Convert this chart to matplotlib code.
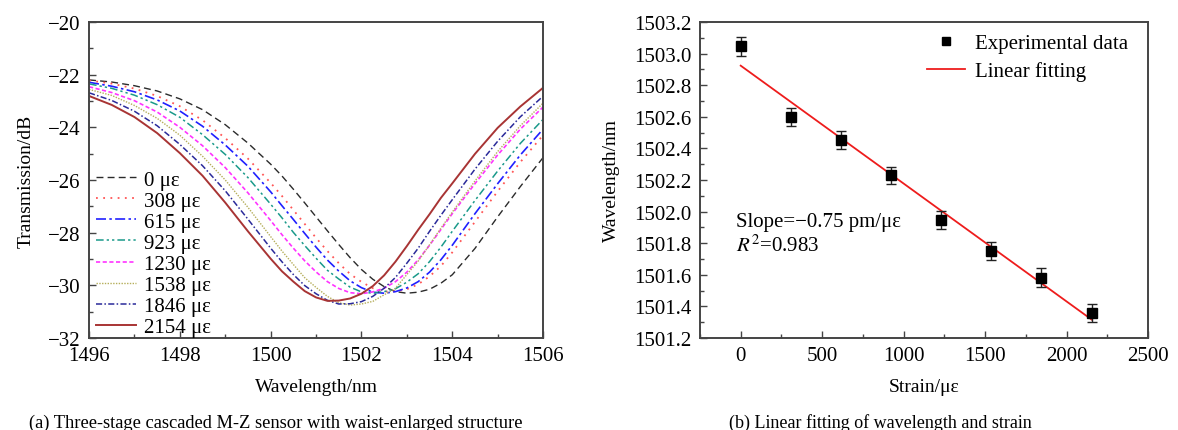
import numpy as np
import matplotlib
matplotlib.use("Agg")
import matplotlib.pyplot as plt
from matplotlib.ticker import MultipleLocator
from matplotlib.lines import Line2D

plt.rcParams['font.family'] = ['Liberation Serif', 'DejaVu Serif']
plt.rcParams['mathtext.fontset'] = 'stix'

# ---- data, panel (a): transmission spectra ----
wl = [1496.0, 1496.5, 1497.0, 1497.5, 1498.0, 1498.5, 1499.0, 1499.5, 1500.0, 1500.25,
      1500.5, 1500.75, 1501.0, 1501.25, 1501.5, 1501.75, 1502.0, 1502.25, 1502.5, 1502.75,
      1503.0, 1503.25, 1503.5, 1503.75, 1504.0, 1504.5, 1505.0, 1505.5, 1506.0]
t_0 = [-22.20, -22.28, -22.42, -22.62, -22.92, -23.33, -23.90, -24.60, -25.40, -25.85,
       -26.35, -26.87, -27.40, -27.93, -28.45, -28.95, -29.40, -29.77, -30.05, -30.24,
       -30.30, -30.26, -30.15, -29.92, -29.60, -28.60, -27.40, -26.25, -25.15]
t_308 = [-22.22, -22.34, -22.53, -22.81, -23.20, -23.73, -24.41, -25.19, -26.11, -26.61,
         -27.14, -27.67, -28.20, -28.70, -29.16, -29.57, -29.87, -30.11, -30.24, -30.23,
         -30.15, -29.96, -29.66, -29.27, -28.75, -27.59, -26.43, -25.32, -24.30]
t_615 = [-22.29, -22.44, -22.65, -22.96, -23.38, -23.96, -24.67, -25.48, -26.45, -26.98,
         -27.50, -28.03, -28.55, -29.04, -29.46, -29.83, -30.09, -30.26, -30.30, -30.24,
         -30.10, -29.86, -29.50, -29.03, -28.48, -27.28, -26.14, -25.05, -24.07]
t_923 = [-22.35, -22.52, -22.78, -23.14, -23.62, -24.28, -25.03, -25.91, -26.92, -27.44,
         -27.99, -28.49, -28.97, -29.43, -29.76, -30.07, -30.25, -30.30, -30.24, -30.13,
         -29.88, -29.56, -29.10, -28.55, -27.95, -26.78, -25.66, -24.61, -23.70]
t_1230 = [-22.46, -22.68, -22.99, -23.42, -24.00, -24.70, -25.53, -26.49, -27.54, -28.08,
          -28.59, -29.07, -29.49, -29.86, -30.12, -30.28, -30.32, -30.25, -30.11, -29.86,
          -29.50, -29.03, -28.48, -27.88, -27.28, -26.14, -25.05, -24.07, -23.23]
t_1538 = [-22.56, -22.79, -23.17, -23.66, -24.30, -25.10, -26.00, -27.04, -28.15, -28.70,
          -29.21, -29.71, -30.08, -30.42, -30.66, -30.75, -30.71, -30.61, -30.36, -30.11,
          -29.59, -29.08, -28.46, -27.83, -27.22, -26.04, -24.92, -23.94, -23.08]
t_1846 = [-22.69, -22.98, -23.39, -23.94, -24.65, -25.46, -26.41, -27.49, -28.59, -29.11,
          -29.59, -30.01, -30.32, -30.57, -30.71, -30.70, -30.62, -30.42, -30.11, -29.70,
          -29.16, -28.59, -27.95, -27.34, -26.75, -25.59, -24.53, -23.60, -22.82]
t_2154 = [-22.81, -23.15, -23.61, -24.22, -24.98, -25.84, -26.86, -27.95, -28.99, -29.47,
          -29.86, -30.22, -30.46, -30.59, -30.58, -30.50, -30.32, -30.03, -29.62, -29.10,
          -28.51, -27.89, -27.30, -26.68, -26.13, -25.01, -24.02, -23.21, -22.50]
spectra = [t_0, t_308, t_615, t_923, t_1230, t_1538, t_1846, t_2154]
labels = ["0 με", "308 με", "615 με", "923 με", "1230 με", "1538 με", "1846 με", "2154 με"]

# ---- data, panel (b): dip wavelength vs strain ----
strain = [0, 308, 615, 923, 1230, 1538, 1846, 2154]
dip = [1503.045, 1502.597, 1502.454, 1502.229, 1501.946, 1501.752, 1501.582, 1501.357]
dip_err = [0.058, 0.058, 0.058, 0.056, 0.058, 0.058, 0.058, 0.058]

colors = ["#2b2b2b", "#ff5555", "#2020ff", "#1a9a8a", "#ff33ff", "#b5ae5a", "#2a2a9a", "#a83434"]
styles = [(0, (5, 3)), (0, (1, 3)), (0, (6, 2, 1.5, 2)), (0, (5, 2, 1.5, 2, 1.5, 2)),
          (0, (2.5, 1.5)), (0, (1, 1)), (0, (4, 1.5, 1, 1.5)), "-"]
widths = [1.0, 1.3, 1.2, 1.1, 1.2, 1.0, 1.1, 1.4]

fs = 15        # ticks, legends, annotations
fs_lab = 14    # axis labels
spine_col = "#444444"

f = plt.figure(figsize=(11.78, 4.31), dpi=100)
ax1 = f.add_axes([0.0756, 0.2135, 0.3854, 0.7332])
ax2 = f.add_axes([0.5942, 0.2135, 0.3803, 0.7332])

def style_axes(ax):
    for s in ax.spines.values():
        s.set_color(spine_col)
        s.set_linewidth(1.4)
    ax.tick_params(which="both", direction="in", top=False, right=False,
                   color=spine_col, labelsize=fs, pad=6)
    ax.tick_params(which="major", length=5, width=1.0)
    ax.tick_params(which="minor", length=3, width=1.0)

# panel (a)
for y, lab, c, ls, lw in zip(spectra, labels, colors, styles, widths):
    ax1.plot(wl, y, color=c, linestyle=ls, linewidth=lw, label=lab)
ax1.set_xlim(1496, 1506)
ax1.set_ylim(-32, -20)
ax1.xaxis.set_major_locator(MultipleLocator(2))
ax1.xaxis.set_minor_locator(MultipleLocator(1))
ax1.yaxis.set_major_locator(MultipleLocator(2))
ax1.yaxis.set_minor_locator(MultipleLocator(1))
style_axes(ax1)
ax1.set_xlabel("Wavelength/nm", fontsize=fs_lab, labelpad=9)
ax1.set_ylabel("Transmission/dB", fontsize=fs_lab, labelpad=10)
ax1.legend(loc="lower left", bbox_to_anchor=(0.013, 0.0), frameon=False, fontsize=fs,
           handlelength=1.9, handletextpad=0.4, labelspacing=0.07,
           borderaxespad=0.0, borderpad=0.05)

# panel (b)
ax2.errorbar(strain, dip, yerr=dip_err, fmt="s", color="black", markersize=7,
             ecolor="#222222", elinewidth=1.0, capsize=3.5, capthick=1.0, zorder=3)
k, b = np.polyfit(strain, dip, 1)
xf = np.array([strain[0], strain[-1]])
ax2.plot(xf, k * xf + b, color="#ee1c1c", linewidth=1.3, zorder=2)
ax2.set_xlim(-250, 2500)
ax2.set_ylim(1501.2, 1503.2)
ax2.xaxis.set_major_locator(MultipleLocator(500))
ax2.xaxis.set_minor_locator(MultipleLocator(250))
ax2.yaxis.set_major_locator(MultipleLocator(0.2))
ax2.yaxis.set_minor_locator(MultipleLocator(0.1))
ax2.yaxis.set_major_formatter(plt.FormatStrFormatter("%.1f"))
style_axes(ax2)
ax2.set_xlabel("Strain/με", fontsize=fs_lab, labelpad=9)
ax2.set_ylabel("Wavelength/nm", fontsize=fs_lab, labelpad=10)
h_exp = Line2D([], [], marker="s", color="black", linestyle="none", markersize=6)
h_fit = Line2D([], [], color="#ee1c1c", linewidth=1.3)
ax2.legend([h_exp, h_fit], ["Experimental data", "Linear fitting"], loc="upper right",
           bbox_to_anchor=(0.982, 1.0), frameon=False, fontsize=fs, handlelength=1.8,
           handletextpad=0.5, labelspacing=0.4, borderaxespad=0.15)
ax2.text(-30, 1501.94, "Slope=−0.75 pm/με", fontsize=fs, va="center", ha="left")
ax2.text(-30, 1501.79, "$R^2$=0.983", fontsize=fs, va="center", ha="left")

# captions
f.text(0.234, 0.007, "(a) Three-stage cascaded M-Z sensor with waist-enlarged structure",
       fontsize=13.3, ha="center", va="baseline")
f.text(0.747, 0.007, "(b) Linear fitting of wavelength and strain",
       fontsize=13, ha="center", va="baseline")

f.savefig("out.png", dpi=100)
